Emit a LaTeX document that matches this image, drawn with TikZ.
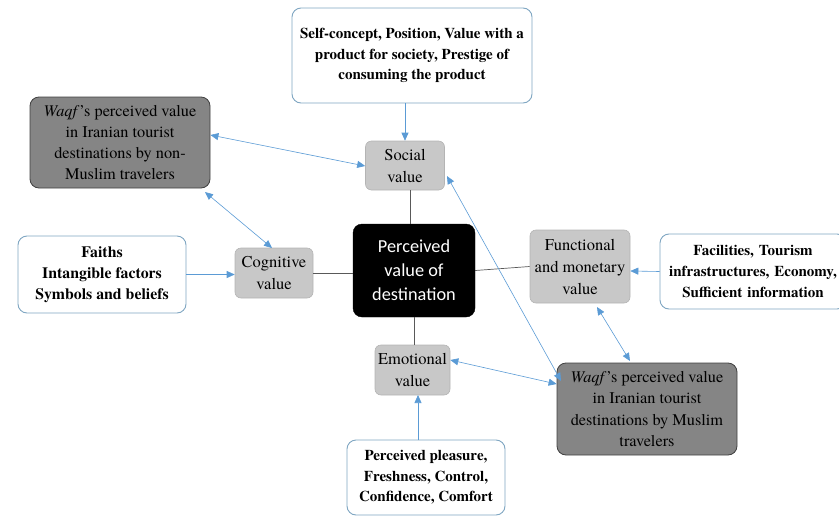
\documentclass[tikz,border=0pt]{standalone}
\usepackage{fontspec}
\setmainfont{texgyretermes}[Extension=.otf, UprightFont=*-regular, BoldFont=*-bold, ItalicFont=*-italic, BoldItalicFont=*-bolditalic]
\newfontfamily\calib{Carlito}
\usetikzlibrary{arrows.meta}
\definecolor{bluearrow}{HTML}{5B9BD5}
\definecolor{boxborder}{HTML}{7FA6C2}
\definecolor{lgray}{HTML}{C8C8C8}
\definecolor{lgrayb}{HTML}{B4B4B4}
\definecolor{dgray}{HTML}{858585}
\tikzset{
  whitebox/.style={draw=boxborder, line width=0.9pt, rounded corners=9pt, fill=white, align=center, font=\bfseries\fontsize{15}{20.5}\selectfont, inner sep=0pt},
  graybox/.style={draw=lgrayb, line width=0.6pt, rounded corners=6pt, fill=lgray, align=center, font=\fontsize{16.5}{22}\selectfont, inner sep=0pt},
  darkbox/.style={draw=black!75, line width=0.8pt, rounded corners=9pt, fill=dgray, align=center, font=\fontsize{16.3}{21.2}\selectfont, inner sep=0pt},
  centerbox/.style={draw=black, rounded corners=9pt, fill=black, text=white, align=center, font=\calib\fontsize{18.3}{24}\selectfont, inner sep=0pt},
  bluearr/.style={draw=bluearrow, line width=0.6pt, -{Triangle[length=8pt,width=7pt]}},
  bluedbl/.style={draw=bluearrow, line width=0.6pt, {Triangle[length=8pt,width=7pt]}-{Triangle[length=8pt,width=7pt]}},
  plainline/.style={draw=black!65, line width=0.7pt}
}
\begin{document}
\begin{tikzpicture}[x=1pt,y=-1pt]
\useasboundingbox (0,0) rectangle (839,517);
\node[whitebox, minimum width=240pt, minimum height=95pt] (top) at (412,55.5) {Self-concept, Position, Value with a\\product for society, Prestige of\\consuming the product};
\node[graybox, minimum width=79pt, minimum height=49pt] (social) at (405,165.5) {Social\\value};
\node[darkbox, minimum width=180pt, minimum height=91pt] (waqfn) at (120,142.5) {\textit{Waqf}'s perceived value\\in Iranian tourist\\destinations by non-\\Muslim travelers};
\node[whitebox, minimum width=168pt, minimum height=77pt, font=\bfseries\fontsize{15.8}{21}\selectfont] (faith) at (102,274.5) {Faiths\\Intangible factors\\Symbols and beliefs};
\node[graybox, minimum width=78pt, minimum height=50pt] (cog) at (274,273) {Cognitive\\value};
\node[centerbox, minimum width=122pt, minimum height=93pt] (center) at (414,270.5) {Perceived\\value of\\destination};
\node[graybox, minimum width=100pt, minimum height=73pt] (func) at (580,266.5) {Functional\\and monetary\\value};
\node[whitebox, minimum width=186pt, minimum height=75pt, text width=186pt, font=\bfseries\fontsize{15}{21}\selectfont] (fac) at (753,271.5) {Facilities, Tourism\\infrastructures, Economy,\\Sufficient information};
\node[graybox, minimum width=75pt, minimum height=50pt] (emo) at (412.5,370) {Emotional\\value};
\node[darkbox, minimum width=180pt, minimum height=92pt] (waqfm) at (647,409) {\textit{Waqf}'s perceived value\\in Iranian tourist\\destinations by Muslim\\travelers};
\node[whitebox, minimum width=158pt, minimum height=75pt] (pleas) at (426,477.5) {Perceived pleasure,\\Freshness, Control,\\Confidence, Comfort};

\draw[bluearr] (top.south -| social.north) -- (social.north);
\draw[bluedbl] (waqfn.east |- 0,135) -- (social.west |- 0,166);
\draw[bluedbl] (205,192) -- (272,248);
\draw[bluearr] (faith.east) -- (cog.west |- faith.east);
\draw[plainline] (cog.east) -- (center.west |- cog.east);
\draw[plainline] (410,190) -- (410,224);
\draw[plainline] (center.east) -- (func.west);
\draw[plainline] (414,317) -- (414,345);
\draw[bluedbl] (447,176) -- (561,381);
\draw[bluedbl] (597,307) -- (630,361);
\draw[bluedbl] (emo.east |- 0,360) -- (waqfm.west |- 0,384);
\draw[bluearr] (fac.west) -- (func.east |- 0,271);
\draw[bluearr] (418,440) -- (418,395);
\end{tikzpicture}
\end{document}
